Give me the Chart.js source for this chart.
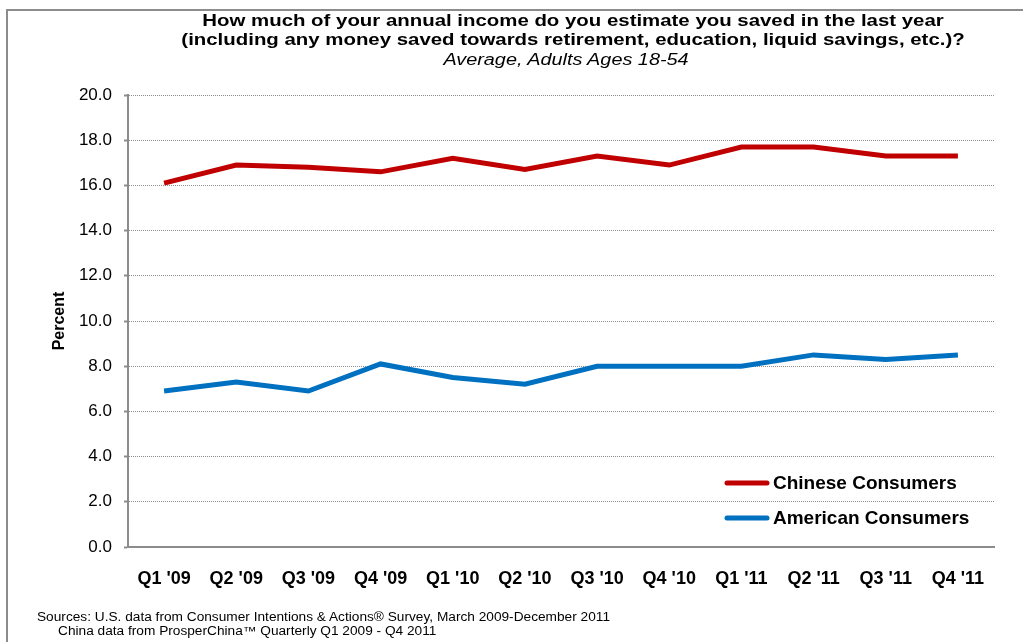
<!DOCTYPE html>
<html lang="en">

<head>
    <meta charset="UTF-8">
    <title>Annual income saved</title>
    <style>
        body {
            margin: 0;
            background: #fff;
            font-family: "Liberation Sans", Arial, sans-serif;
        }
        #wrap {
            position: relative;
            width: 1023px;
            height: 642px;
            overflow: hidden;
        }
        #frame {
            position: absolute;
            left: 6px;
            top: 9px;
            width: 1100px;
            height: 700px;
            border-top: 2px solid #8c8c8c;
            border-left: 2px solid #8c8c8c;
        }
        #chart {
            position: absolute;
            left: 0;
            top: 0;
        }
        .title {
            position: absolute;
            width: 800px;
            text-align: center;
            color: #000;
            white-space: nowrap;
            transform: scaleX(1.2);
        }
        .t1 { left: 173px; top: 11px; font-size: 17px; font-weight: bold; }
        .t2 { left: 173px; top: 30px; font-size: 17px; font-weight: bold; }
        .t3 { left: 166px; top: 51px; font-size: 16px; font-style: italic; transform: scaleX(1.24); }
        .src {
            position: absolute;
            font-size: 12px;
            color: #000;
            white-space: nowrap;
            transform: scaleX(1.14);
            transform-origin: left center;
        }
    </style>
</head>

<body>
    <div id="wrap">
        <div id="frame"></div>
        <canvas id="chart" width="1023" height="642"></canvas>
        <div class="title t1">How much of your annual income do you estimate you saved in the last year</div>
        <div class="title t2">(including any money saved towards retirement, education, liquid savings, etc.)?</div>
        <div class="title t3">Average, Adults Ages 18-54</div>
        <div class="src" style="left:37px; top:610px;">Sources: U.S. data from Consumer Intentions &amp; Actions® Survey, March 2009-December 2011</div>
        <div class="src" style="left:58px; top:624px;">China data from ProsperChina™ Quarterly Q1 2009 - Q4 2011</div>
    </div>

    <script src="https://cdn.jsdelivr.net/npm/chart.js"></script>

    <script>
        const quarters = ["Q1 '09", "Q2 '09", "Q3 '09", "Q4 '09", "Q1 '10", "Q2 '10",
            "Q3 '10", "Q4 '10", "Q1 '11", "Q2 '11", "Q3 '11", "Q4 '11"];
        const chinese = [16.1, 16.9, 16.8, 16.6, 17.2, 16.7, 17.3, 16.9, 17.7, 17.7, 17.3, 17.3];
        const american = [6.9, 7.3, 6.9, 8.1, 7.5, 7.2, 8.0, 8.0, 8.0, 8.5, 8.3, 8.5];

        // legend sits inside the plot, bottom right
        const innerLegend = {
            id: 'innerLegend',
            afterDraw(chart) {
                const ctx = chart.ctx;
                const area = chart.chartArea;
                const x0 = area.right - 267;
                const rows = [area.bottom - 64, area.bottom - 29];
                ctx.save();
                chart.data.datasets.forEach((ds, i) => {
                    const y = rows[i];
                    ctx.strokeStyle = ds.borderColor;
                    ctx.lineWidth = 5;
                    ctx.lineCap = 'round';
                    ctx.beginPath();
                    ctx.moveTo(x0, y);
                    ctx.lineTo(x0 + 40, y);
                    ctx.stroke();
                    ctx.fillStyle = '#000';
                    ctx.font = 'bold 19px "Liberation Sans", Arial';
                    ctx.textBaseline = 'middle';
                    ctx.fillText(ds.label, x0 + 46, y + 1);
                });
                ctx.restore();
            }
        };

        new Chart(document.getElementById('chart'), {
            type: 'line',
            data: {
                labels: quarters,
                datasets: [{
                    label: 'Chinese Consumers',
                    data: chinese,
                    borderColor: '#c00000',
                    borderWidth: 5,
                    pointRadius: 0,
                    tension: 0
                }, {
                    label: 'American Consumers',
                    data: american,
                    borderColor: '#0070c0',
                    borderWidth: 5,
                    pointRadius: 0,
                    tension: 0
                }]
            },
            options: {
                responsive: false,
                animation: false,
                layout: {
                    padding: { left: 42, top: 95, right: 29, bottom: 50 }
                },
                plugins: {
                    legend: { display: false },
                    tooltip: { enabled: false }
                },
                scales: {
                    x: {
                        offset: true,
                        grid: { display: false, offset: true },
                        border: { display: true, color: '#8c8c8c', width: 2 },
                        ticks: {
                            color: '#000',
                            font: { family: '"Liberation Sans", Arial', size: 18, weight: 'bold' },
                            padding: 13,
                            maxRotation: 0,
                            autoSkip: false
                        },
                        afterFit: (axis) => { axis.height = 45; }
                    },
                    y: {
                        min: 0,
                        max: 20,
                        ticks: {
                            stepSize: 2,
                            color: '#000',
                            font: { family: '"Liberation Sans", Arial', size: 17 },
                            padding: 12,
                            callback: (v) => v.toFixed(1)
                        },
                        grid: {
                            color: (c) => c.tick && c.tick.value === 0 ? 'rgba(0,0,0,0)' : '#8c8c8c',
                            lineWidth: 1,
                            tickLength: 4,
                            tickColor: '#8c8c8c',
                            tickWidth: 2
                        },
                        border: { display: true, color: '#8c8c8c', width: 2, dash: [1, 1] },
                        title: {
                            display: true,
                            text: 'Percent',
                            color: '#000',
                            font: { family: '"Liberation Sans", Arial', size: 16, weight: 'bold' },
                            padding: { top: 8, bottom: 4 }
                        },
                        afterFit: (axis) => { axis.width = 86; }
                    }
                }
            },
            plugins: [innerLegend]
        });
    </script>
</body>

</html>
